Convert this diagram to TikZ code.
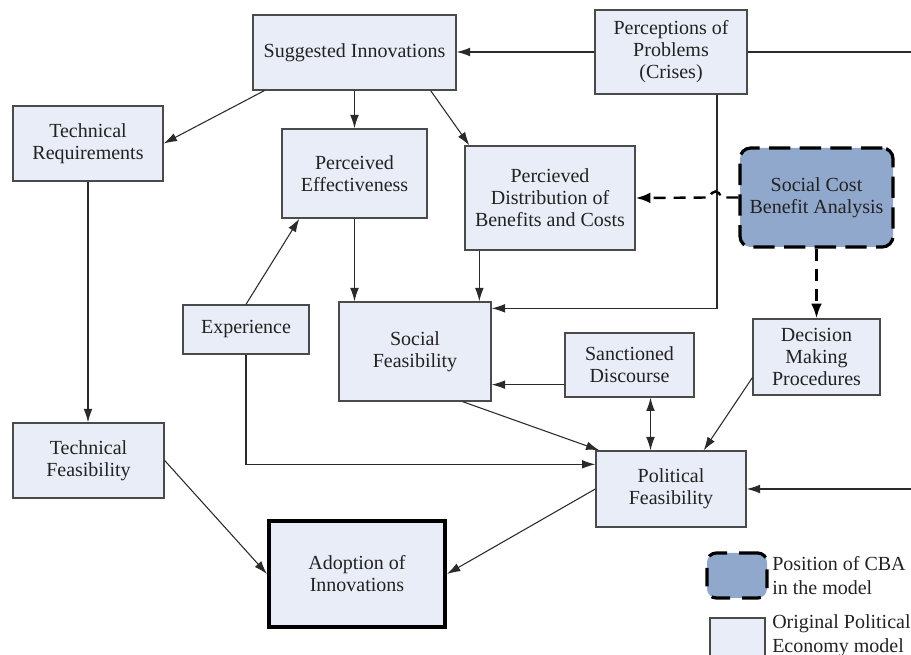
\documentclass[tikz,border=0pt]{standalone}
\usepackage{fontspec}
\setmainfont{Liberation Serif}
\usetikzlibrary{arrows.meta,calc}

\definecolor{boxfill}{HTML}{E8EDF7}
\definecolor{boxline}{HTML}{4A4A4A}
\definecolor{cbafill}{HTML}{8FA8CB}
\definecolor{txt}{HTML}{222222}
\definecolor{wire}{HTML}{2A2A2A}

\tikzset{
  base/.style 2 args={draw=boxline, line width=1pt, fill=boxfill, inner sep=0pt,
    minimum width=#1*0.75pt, minimum height=#2*0.75pt, align=center,
    text=txt, font=\fontsize{15}{16.5}\selectfont},
  keybox/.style 2 args={base={#1}{#2}, draw=black, line width=3pt},
  cbabox/.style 2 args={base={#1}{#2}, fill=cbafill, draw=black, line width=2.4pt,
    rounded corners=8pt, dash pattern=on 16pt off 7pt},
  arr/.style={draw=wire, line width=0.8pt, -{Latex[length=10pt,width=6.5pt]}},
  dblarr/.style={draw=wire, line width=0.8pt, {Latex[length=10pt,width=6.5pt]}-{Latex[length=10pt,width=6.5pt]}},
  plain/.style={draw=wire, line width=0.8pt},
  dasharr/.style={draw=black, line width=1.8pt, dash pattern=on 9pt off 6pt,
    -{Latex[length=11pt,width=8pt]}},
  legtext/.style={anchor=west, inner sep=0pt, align=left, text=txt,
    font=\fontsize{15}{18}\selectfont},
}

\begin{document}
\begin{tikzpicture}[x=0.75pt, y=-0.75pt]
\clip (0,0) rectangle (911,655);

% boxes of the political economy model
\node[base={203}{75}]  (sugg)  at (354.5,52.5) {Suggested Innovations};
\node[base={152}{84}]  (perc)  at (671,52)     {Perceptions of\\Problems\\(Crises)};
\node[base={150}{75}]  (treq)  at (88,143.5)   {Technical\\Requirements};
\node[base={145}{89}]  (peff)  at (354.5,173.5) {Perceived\\Effectiveness};
\node[base={170}{104}] (pdist) at (550,198)    {Percieved\\Distribution of\\Benefits and Costs};
\node[cbabox={153}{99}] (cba)  at (816.5,197.5) {Social Cost\\Benefit Analysis};
\node[base={152}{99}]  (sfeas) at (415,351.5)  {Social\\Feasibility};
\node[base={126}{49}]  (exp)   at (246,329.5)  {Experience};
\node[base={129}{64}]  (sdisc) at (629.5,365)  {Sanctioned\\Discourse};
\node[base={127}{76}]  (dmp)   at (816.5,357)  {Decision\\Making\\Procedures};
\node[base={151}{75}]  (tfeas) at (88.5,460.5) {Technical\\Feasibility};
\node[base={150}{76}]  (pfeas) at (671,489)    {Political\\Feasibility};
\node[keybox={176}{106}] (adopt) at (357,574)  {Adoption of\\Innovations};

% free ends at the right margin
\coordinate (rtop) at (911,52);
\coordinate (rbot) at (911,489);

% helper points on box borders
\coordinate (s1) at ($(sugg.south west)+(12,0)$);
\coordinate (s2) at ($(sugg.south east)+(-26,0)$);
\coordinate (d1) at ($(pdist.north west)+(5,0)$);
\coordinate (d2) at ($(pdist.south west)+(15,0)$);
\coordinate (p1) at ($(perc.south)+(46,0)$);
\coordinate (f1) at ($(sfeas.north east)+(0,7)$);
\coordinate (e1) at ($(peff.south west)+(18,0)$);
\coordinate (q1) at ($(pfeas.north west)+(0,14)$);
\coordinate (f2) at ($(sfeas.south east)+(-29,0)$);
\coordinate (q2) at ($(pfeas.north west)+(4,0)$);
\coordinate (sd1) at ($(sdisc.south west)+(0,-13)$);
\coordinate (sd2) at ($(sdisc.south)+(21,0)$);
\coordinate (m1) at ($(dmp.south west)+(0,-18)$);
\coordinate (q3) at ($(pfeas.north east)+(-43,0)$);

% connectors
\draw[plain] (perc.east) -- (rtop);
\draw[arr] (perc.west) -- (sugg.east |- perc.west);
\draw[arr] (s1) -- (treq.east);
\draw[arr] (sugg.south) -- (peff.north);
\draw[arr] (s2) -- (d1);
\draw[arr] (peff.south) -- (peff.south |- sfeas.north);
\draw[arr] (d2) -- (d2 |- sfeas.north);
\draw[arr] (p1) |- (f1);
\draw[arr] (exp.north) -- (e1);
\draw[arr] (exp.south) |- (q1);
\draw[arr] (treq.south) -- (treq.south |- tfeas.north);
\draw[arr] (tfeas.east) -- (adopt.west);
\draw[arr] (pfeas.west) -- (adopt.east);
\draw[arr] (f2) -- (q2);
\draw[arr] (sd1) -- (sd1 -| sfeas.east);
\draw[dblarr] (sd2) -- (sd2 |- pfeas.north);
\draw[arr] (m1) -- (q3);
\draw[arr] (rbot) -- (pfeas.east);

% links from the cost benefit analysis
\draw[dasharr] (cba.west) -- ($(cba.west)+(-18,0)$)
  .. controls +(0,-8) and +(0,-8) .. ($(cba.west)+(-28,0)$) -- (pdist.east);
\draw[dasharr] (cba.south) -- (dmp.north);

% legend
\node[cbabox={60}{45}, rounded corners=7pt, dash pattern=on 14pt off 9pt] (legcba) at (737,575.5) {};
\node[legtext] (legcbat) at (772,576) {Position of CBA\\in the model};
\node[base={55}{50}] (legpe) at (737.5,643) {};
\node[legtext, anchor=north west] (legpet) at (772,614) {Original Political\\Economy model};
\end{tikzpicture}
\end{document}
